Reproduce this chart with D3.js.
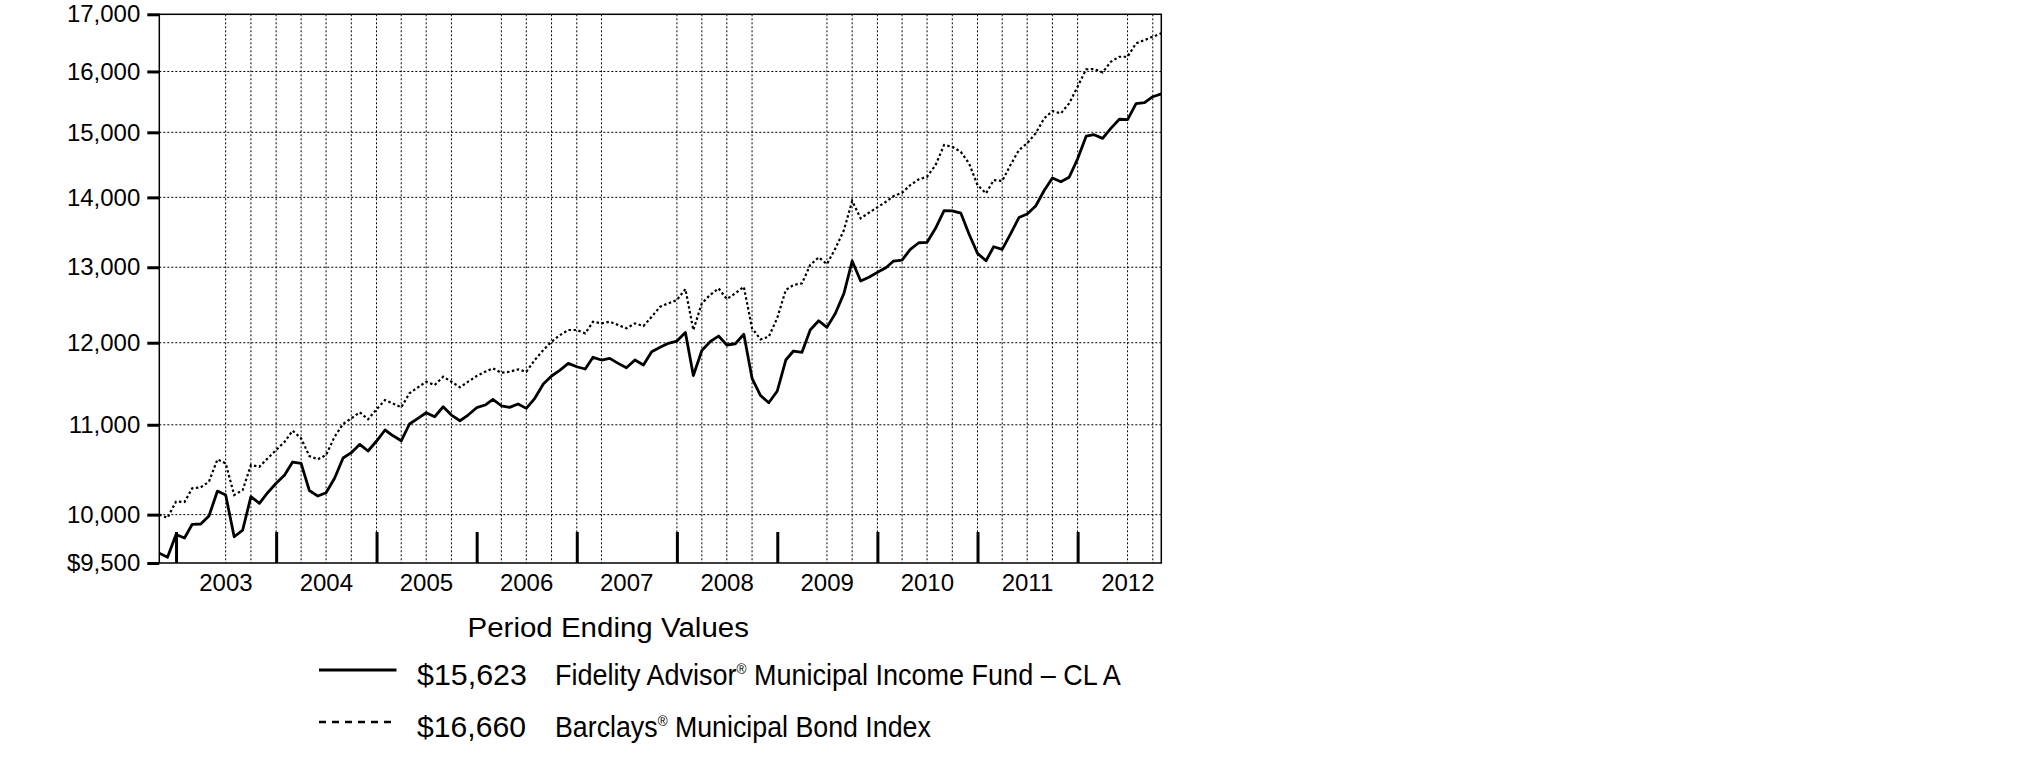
<!DOCTYPE html>
<html><head><meta charset="utf-8">
<script src="https://cdn.jsdelivr.net/npm/d3@7"></script>
<style>
body{margin:0;background:#fff}
svg{display:block}
text{font-family:"Liberation Sans",Arial,Helvetica,sans-serif;fill:#000}
</style>
</head><body><svg id="c" width="2025" height="773"></svg>
<script>
// ---------- DATA ----------
const fundValues = [
 9600, 9557, 9791, 9755, 9898, 9901, 9985, 10253, 10210, 9768,
 9838, 10192, 10121, 10235, 10338, 10429, 10574, 10559, 10259, 10199,
 10235, 10393, 10619, 10679, 10774, 10698, 10812, 10939, 10875, 10815,
 11009, 11075, 11141, 11094, 11212, 11114, 11047, 11114, 11201, 11233,
 11301, 11224, 11205, 11245, 11193, 11313, 11486, 11584, 11657, 11740,
 11698, 11670, 11816, 11782, 11803, 11740, 11686, 11782, 11719, 11886,
 11941, 11992, 12021, 12130, 11590, 11901, 12013, 12085, 11971, 11987,
 12108, 11555, 11346, 11260, 11401, 11782, 11895, 11878, 12163, 12283,
 12197, 12380, 12645, 13086, 12811, 12862, 12930, 12993, 13086, 13100,
 13249, 13342, 13348, 13548, 13803, 13800, 13769, 13466, 13193, 13090,
 13286, 13249, 13466, 13704, 13755, 13872, 14102, 14290, 14234, 14302,
 14584, 14938, 14962, 14904, 15063, 15209, 15203, 15462, 15481, 15577,
 15623];
const indexValues = [
 10000, 9967, 10140, 10135, 10283, 10294, 10355, 10604, 10559, 10210,
 10264, 10540, 10521, 10615, 10709, 10804, 10931, 10843, 10641, 10604,
 10653, 10861, 11009, 11075, 11146, 11064, 11182, 11292, 11253, 11205,
 11373, 11446, 11514, 11474, 11575, 11514, 11446, 11514, 11584, 11636,
 11679, 11624, 11636, 11666, 11636, 11782, 11907, 12013, 12098, 12163,
 12163, 12120, 12270, 12249, 12270, 12227, 12185, 12249, 12214, 12335,
 12467, 12512, 12556, 12703, 12163, 12512, 12623, 12712, 12569, 12645,
 12734, 12185, 12043, 12076, 12320, 12690, 12757, 12780, 13031, 13137,
 13044, 13263, 13523, 13946, 13692, 13774, 13853, 13935, 14020, 14069,
 14184, 14270, 14310, 14488, 14799, 14772, 14694, 14514, 14184, 14060,
 14260, 14245, 14488, 14721, 14826, 14984, 15224, 15342, 15305, 15468,
 15743, 16036, 16041, 15985, 16166, 16252, 16252, 16484, 16542, 16600,
 16660];
const firstMonth = [2002, 10]; // Nov 2002 (0-based month)
const yTickValues = [9500, 10000, 11000, 12000, 13000, 14000, 15000, 16000, 17000];
const yTickLabels = ["$9,500", "10,000", "11,000", "12,000", "13,000", "14,000", "15,000", "16,000", "17,000"];
const yGridValues = [10000, 11000, 12000, 13000, 14000, 15000, 16000];
const yearLabels = ["2003", "2004", "2005", "2006", "2007", "2008", "2009", "2010", "2011", "2012"];
const gridMonths = [
 "2003-07","2003-10",
 "2004-01","2004-04","2004-07","2004-10",
 "2005-01","2005-04","2005-07","2005-10",
 "2006-04","2006-07","2006-10",
 "2007-01","2007-04",
 "2008-01","2008-04","2008-07","2008-10",
 "2009-07","2009-10",
 "2010-01","2010-04","2010-07","2010-10",
 "2011-01","2011-04","2011-07","2011-10",
 "2012-01","2012-07","2012-10"];
const legendTitle = "Period Ending Values";
const legendValues = ["$15,623", "$16,660"];
const legendNames = [["Fidelity Advisor", "®", " Municipal Income Fund – CL A"], ["Barclays", "®", " Municipal Bond Index"]];

// ---------- LAYOUT ----------
const L = 159.3, R = 1161.3, T = 14.3, B = 563;
const svg = d3.select("#c");
const months = fundValues.map((_, i) => new Date(Date.UTC(firstMonth[0], firstMonth[1] + i, 1)));
const parseM = d3.utcParse("%Y-%m");

const x = d3.scaleUtc().domain([months[0], months[months.length - 1]]).range([L, R]);
const y = d3.scaleLog().domain([9500, 17000]).range([B, T]);

// grid
const g = svg.append("g");
g.selectAll("line.hg").data(yGridValues).join("line")
  .attr("x1", L).attr("x2", R).attr("y1", d => y(d)).attr("y2", d => y(d))
  .attr("stroke", "#000").attr("stroke-width", 1).attr("stroke-dasharray", "2,2");
g.selectAll("line.vg").data(gridMonths.map(parseM)).join("line")
  .attr("x1", d => x(d)).attr("x2", d => x(d)).attr("y1", T).attr("y2", B)
  .attr("stroke", "#000").attr("stroke-width", 1).attr("stroke-dasharray", "2,2");

// frame
svg.append("rect").attr("x", L).attr("y", T).attr("width", R - L).attr("height", B - T)
  .attr("fill", "none").attr("stroke", "#000").attr("stroke-width", 1.5);

// y axis
const yAxis = d3.axisLeft(y).tickValues(yTickValues)
  .tickFormat((d, i) => yTickLabels[i]).tickSize(12).tickPadding(7);
const ya = svg.append("g").attr("transform", `translate(${L},0)`).call(yAxis);
ya.select(".domain").remove();
ya.selectAll(".tick line").attr("stroke", "#000").attr("stroke-width", 3);
ya.selectAll(".tick text").attr("font-size", 24).attr("font-family", "Liberation Sans, Arial, sans-serif").attr("fill", "#000");

// x axis: year boundary ticks
const yearStarts = yearLabels.map(s => new Date(Date.UTC(+s, 0, 1)));
const xa = svg.append("g").attr("transform", `translate(0,${B})`)
  .call(d3.axisBottom(x).tickValues(yearStarts).tickSize(-31).tickFormat(""));
xa.select(".domain").remove();
xa.selectAll(".tick line").attr("stroke", "#000").attr("stroke-width", 3);
// year labels centred in year
svg.append("g").selectAll("text").data(yearLabels).join("text")
  .attr("x", d => x(new Date(Date.UTC(+d, 6, 2))))
  .attr("y", 591).attr("text-anchor", "middle").attr("font-size", 24).text(d => d);

// lines
const line = d3.line().x((d, i) => x(months[i])).y(d => y(d));
svg.append("path").datum(indexValues).attr("d", line)
  .attr("fill", "none").attr("stroke", "#000").attr("stroke-width", 2.2)
  .attr("stroke-dasharray", "2.5,2.5");
svg.append("path").datum(fundValues).attr("d", line)
  .attr("fill", "none").attr("stroke", "#000").attr("stroke-width", 2.8)
  .attr("stroke-linejoin", "round");

// ---------- LEGEND ----------
function fit(sel, x0, targetW) {
  const w = sel.node().getComputedTextLength();
  const yb = +sel.attr("y");
  sel.attr("x", 0).attr("y", 0).attr("transform", `translate(${x0},${yb}) scale(${targetW / w},1)`);
}
const lg = svg.append("g");
const title = lg.append("text").attr("y", 637).attr("font-size", 28).text(legendTitle);
fit(title, 467.5, 281.5);

const rowY = [685, 737];
const lineY = [670, 722];
const valW = [110, 109];
const nameW = [566, 376];
lg.append("line").attr("x1", 319).attr("x2", 396.5).attr("y1", lineY[0]).attr("y2", lineY[0])
  .attr("stroke", "#000").attr("stroke-width", 3);
lg.append("line").attr("x1", 319).attr("x2", 396.5).attr("y1", lineY[1]).attr("y2", lineY[1])
  .attr("stroke", "#000").attr("stroke-width", 2.5).attr("stroke-dasharray", "7,6");
legendValues.forEach((v, i) => {
  const t = lg.append("text").attr("y", rowY[i]).attr("font-size", 30).text(v);
  fit(t, 417, valW[i]);
  const n = lg.append("text").attr("y", rowY[i]).attr("font-size", 30);
  n.append("tspan").text(legendNames[i][0]);
  n.append("tspan").attr("font-size", 15).attr("dy", -11).text(legendNames[i][1]);
  n.append("tspan").attr("dy", 11).text(legendNames[i][2]);
  fit(n, 555, nameW[i]);
});
</script>
</body></html>
